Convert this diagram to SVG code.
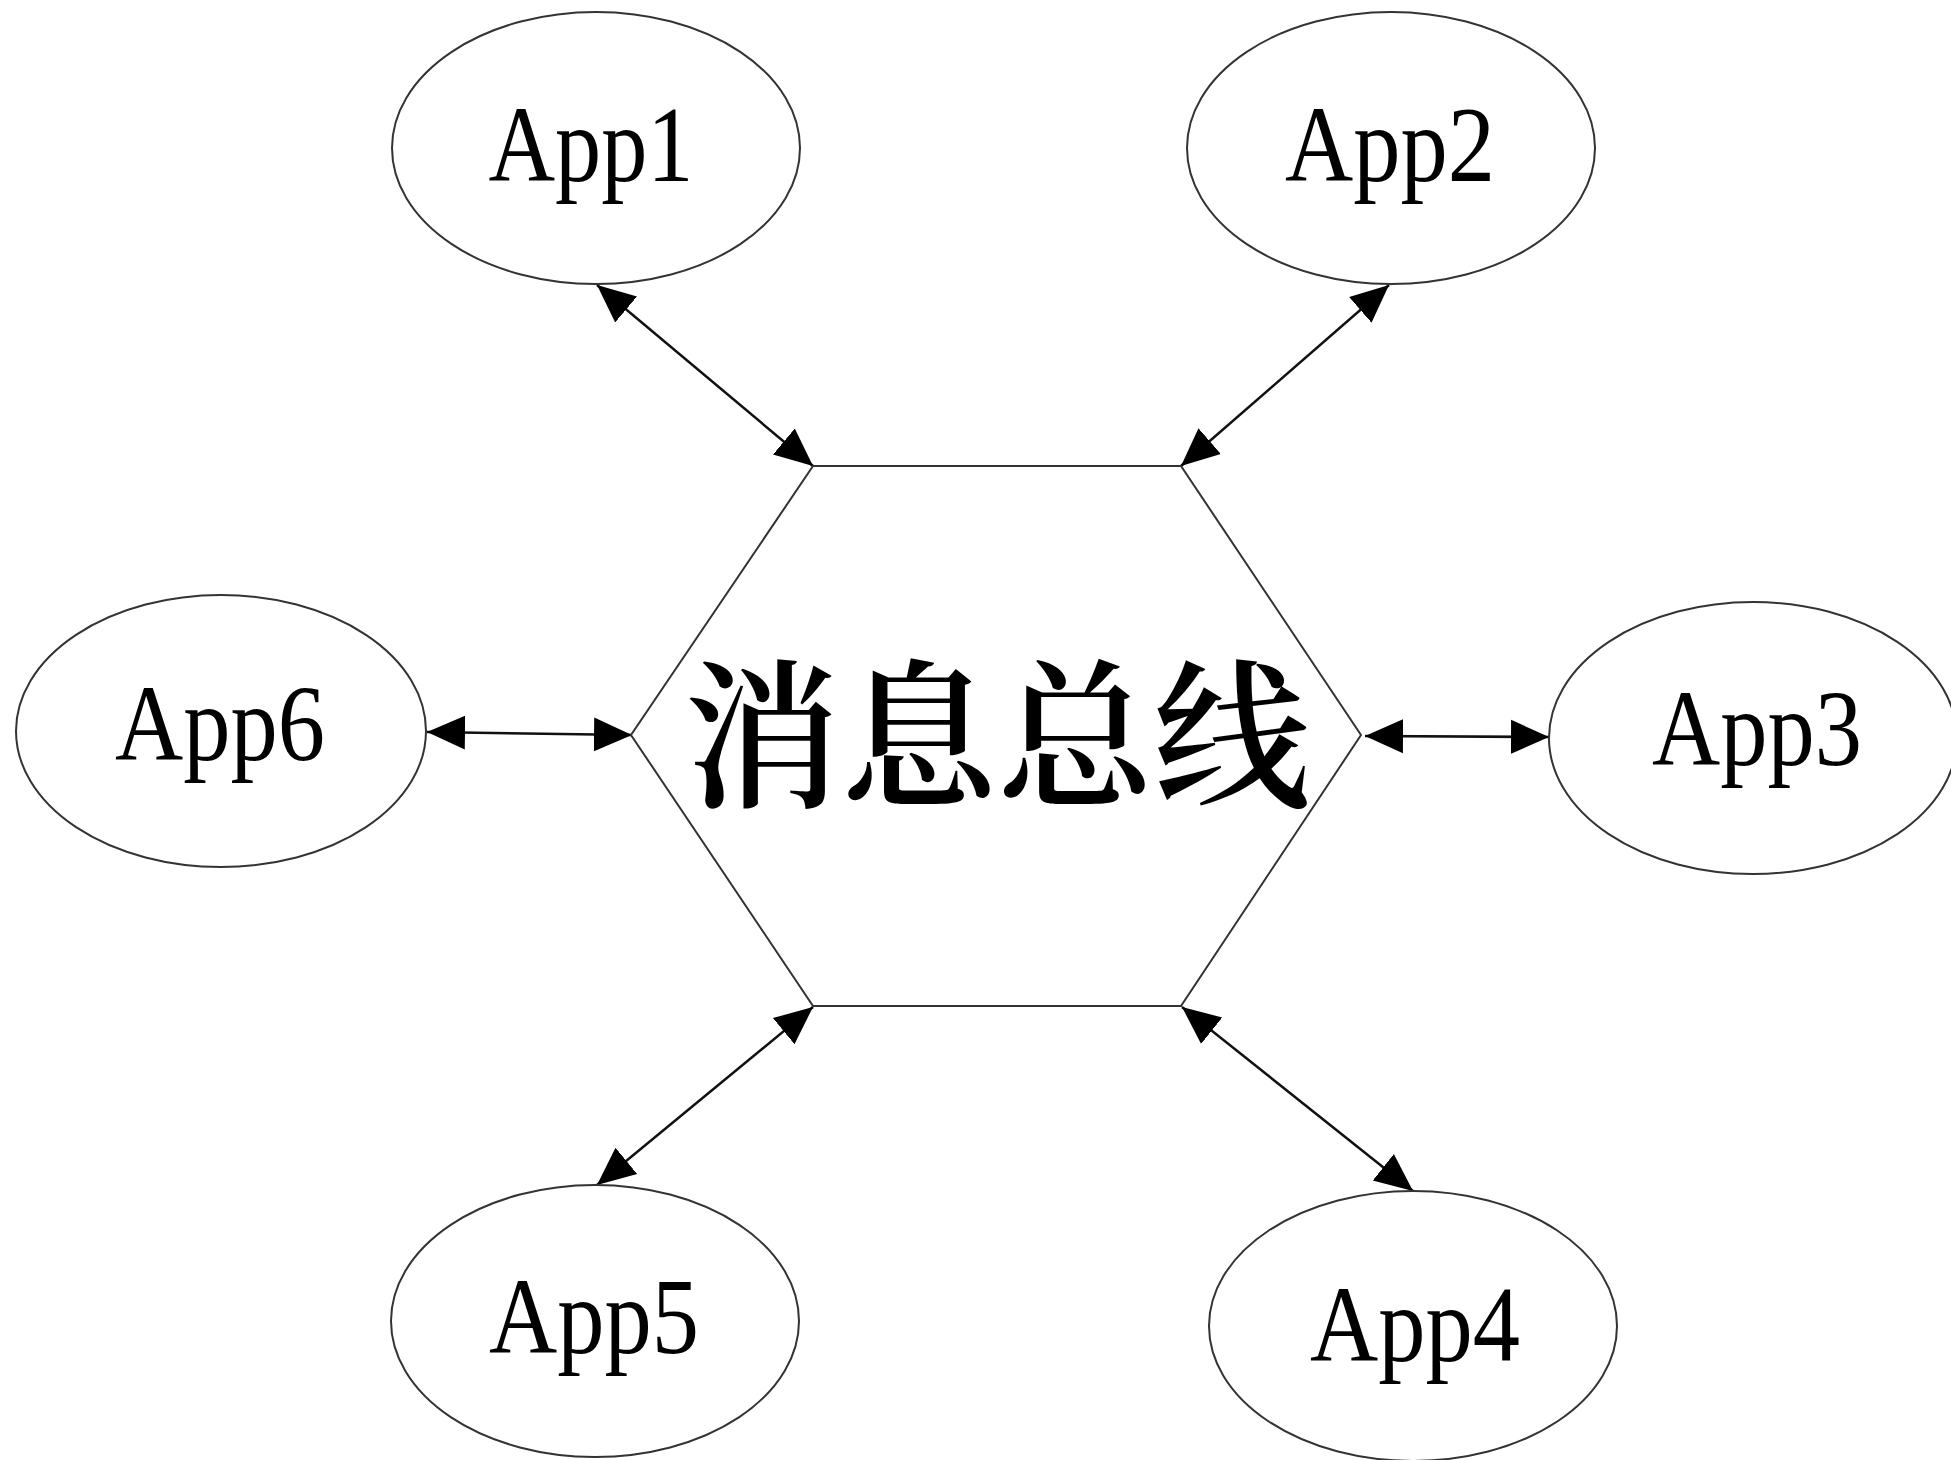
<svg xmlns="http://www.w3.org/2000/svg" width="1951" height="1460" viewBox="0 0 1951 1460">
<style>
.node{fill:#fff;stroke:#333;stroke-width:2}
.lbl{font-family:"Liberation Serif",serif;font-size:107px;fill:#000;text-anchor:middle}
.hub{font-family:"Noto Serif CJK SC","Noto Sans CJK SC",serif;font-size:160px;font-weight:600;fill:#000;text-anchor:middle}
.conn{stroke:#111;stroke-width:2.5;fill:none;marker-start:url(#ah);marker-end:url(#ah)}
</style>
<defs>
<marker id="ah" markerUnits="userSpaceOnUse" markerWidth="40" markerHeight="36" viewBox="0 0 40 36" refX="38" refY="18" orient="auto-start-reverse">
<path d="M0,1 L38,18 L0,35 z" fill="#000"/>
</marker>
</defs>
<rect width="1951" height="1460" fill="#fff"/>
<g id="connectors">
<line class="conn" x1="813" y1="466" x2="597" y2="285"/>
<line class="conn" x1="1181" y1="466" x2="1389" y2="285"/>
<line class="conn" x1="1365" y1="736" x2="1549" y2="737"/>
<line class="conn" x1="1182" y1="1007" x2="1413" y2="1191"/>
<line class="conn" x1="813" y1="1007" x2="597" y2="1185"/>
<line class="conn" x1="632" y1="735" x2="427" y2="732"/>
</g>
<g id="bus">
<polygon points="813,466 1181,466 1361,735 1181,1006 813,1006 631,735" fill="none" stroke="#333" stroke-width="2"/>
<text class="hub" x="997" y="795" textLength="626" lengthAdjust="spacingAndGlyphs">消息总线</text>
</g>
<g id="app1">
<ellipse class="node" cx="596" cy="148" rx="204" ry="136"/>
<text class="lbl" x="591" y="181" textLength="205" lengthAdjust="spacingAndGlyphs">App1</text>
</g>
<g id="app2">
<ellipse class="node" cx="1391" cy="148" rx="204" ry="136"/>
<text class="lbl" x="1390" y="181" textLength="210" lengthAdjust="spacingAndGlyphs">App2</text>
</g>
<g id="app3">
<ellipse class="node" cx="1753" cy="738" rx="204" ry="136"/>
<text class="lbl" x="1757" y="765" textLength="210" lengthAdjust="spacingAndGlyphs">App3</text>
</g>
<g id="app4">
<ellipse class="node" cx="1413" cy="1326" rx="204" ry="135"/>
<text class="lbl" x="1415" y="1361" textLength="210" lengthAdjust="spacingAndGlyphs">App4</text>
</g>
<g id="app5">
<ellipse class="node" cx="595" cy="1321" rx="204" ry="136"/>
<text class="lbl" x="594" y="1353" textLength="210" lengthAdjust="spacingAndGlyphs">App5</text>
</g>
<g id="app6">
<ellipse class="node" cx="221" cy="731" rx="205" ry="136"/>
<text class="lbl" x="220" y="760" textLength="210" lengthAdjust="spacingAndGlyphs">App6</text>
</g>
</svg>
